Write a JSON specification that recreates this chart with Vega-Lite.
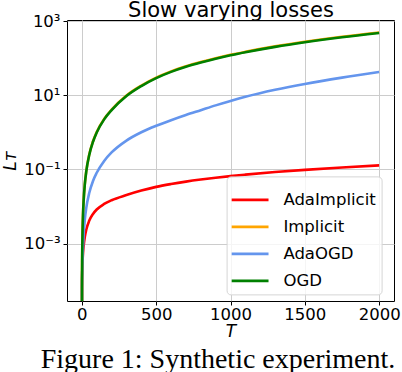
{
  "$schema": "https://vega.github.io/schema/vega-lite/v6.json",
  "autosize": "none",
  "padding": {"left": 67, "top": 20, "right": 8, "bottom": 71},
  "width": 327,
  "height": 281,
  "title": {"text": "Figure 1: Synthetic experiment.", "orient": "bottom", "anchor": "middle", "frame": "group", "font": "Liberation Serif", "fontSize": 28, "fontWeight": "normal", "color": "black", "baseline": "alphabetic", "offset": 28, "dx": -12.5},
  "data": {"values": [
      {"T": 0, "s": "AdaImplicit", "L": 1e-9},
      {"T": 1, "s": "AdaImplicit", "L": 6.5e-5},
      {"T": 2, "s": "AdaImplicit", "L": 1.35e-4},
      {"T": 3, "s": "AdaImplicit", "L": 2.04e-4},
      {"T": 5, "s": "AdaImplicit", "L": 3.47e-4},
      {"T": 8, "s": "AdaImplicit", "L": 5.75e-4},
      {"T": 12, "s": "AdaImplicit", "L": 8.7e-4},
      {"T": 20, "s": "AdaImplicit", "L": 1.51e-3},
      {"T": 30, "s": "AdaImplicit", "L": 2.4e-3},
      {"T": 50, "s": "AdaImplicit", "L": 4.17e-3},
      {"T": 75, "s": "AdaImplicit", "L": 6.3e-3},
      {"T": 100, "s": "AdaImplicit", "L": 8.3e-3},
      {"T": 150, "s": "AdaImplicit", "L": 0.0117},
      {"T": 200, "s": "AdaImplicit", "L": 0.0148},
      {"T": 300, "s": "AdaImplicit", "L": 0.0204},
      {"T": 400, "s": "AdaImplicit", "L": 0.0269},
      {"T": 500, "s": "AdaImplicit", "L": 0.0339},
      {"T": 600, "s": "AdaImplicit", "L": 0.0404},
      {"T": 700, "s": "AdaImplicit", "L": 0.0469},
      {"T": 800, "s": "AdaImplicit", "L": 0.0533},
      {"T": 900, "s": "AdaImplicit", "L": 0.0597},
      {"T": 1000, "s": "AdaImplicit", "L": 0.0661},
      {"T": 1100, "s": "AdaImplicit", "L": 0.0724},
      {"T": 1300, "s": "AdaImplicit", "L": 0.0851},
      {"T": 1500, "s": "AdaImplicit", "L": 0.0975},
      {"T": 1750, "s": "AdaImplicit", "L": 0.113},
      {"T": 2000, "s": "AdaImplicit", "L": 0.129},
      {"T": 0, "s": "Implicit", "L": 1e-9},
      {"T": 1, "s": "Implicit", "L": 1.03e-4},
      {"T": 2, "s": "Implicit", "L": 4.12e-4},
      {"T": 3, "s": "Implicit", "L": 9.27e-4},
      {"T": 5, "s": "Implicit", "L": 2.58e-3},
      {"T": 8, "s": "Implicit", "L": 6.6e-3},
      {"T": 12, "s": "Implicit", "L": 0.0148},
      {"T": 20, "s": "Implicit", "L": 0.0412},
      {"T": 30, "s": "Implicit", "L": 0.0927},
      {"T": 50, "s": "Implicit", "L": 0.2575},
      {"T": 75, "s": "Implicit", "L": 0.577},
      {"T": 100, "s": "Implicit", "L": 1.03},
      {"T": 150, "s": "Implicit", "L": 2.32},
      {"T": 200, "s": "Implicit", "L": 4.12},
      {"T": 300, "s": "Implicit", "L": 9.92},
      {"T": 400, "s": "Implicit", "L": 18.4},
      {"T": 500, "s": "Implicit", "L": 30.2},
      {"T": 600, "s": "Implicit", "L": 44.5},
      {"T": 700, "s": "Implicit", "L": 61.1},
      {"T": 800, "s": "Implicit", "L": 79.7},
      {"T": 900, "s": "Implicit", "L": 101},
      {"T": 1000, "s": "Implicit", "L": 124.6},
      {"T": 1100, "s": "Implicit", "L": 150},
      {"T": 1300, "s": "Implicit", "L": 210},
      {"T": 1500, "s": "Implicit", "L": 280},
      {"T": 1750, "s": "Implicit", "L": 382},
      {"T": 2000, "s": "Implicit", "L": 498},
      {"T": 0, "s": "AdaOGD", "L": 1e-9},
      {"T": 1, "s": "AdaOGD", "L": 6.3e-5},
      {"T": 2, "s": "AdaOGD", "L": 1.26e-4},
      {"T": 3, "s": "AdaOGD", "L": 2.24e-4},
      {"T": 5, "s": "AdaOGD", "L": 4.47e-4},
      {"T": 8, "s": "AdaOGD", "L": 8.5e-4},
      {"T": 12, "s": "AdaOGD", "L": 1.78e-3},
      {"T": 20, "s": "AdaOGD", "L": 4.47e-3},
      {"T": 30, "s": "AdaOGD", "L": 9.3e-3},
      {"T": 50, "s": "AdaOGD", "L": 0.0234},
      {"T": 75, "s": "AdaOGD", "L": 0.049},
      {"T": 100, "s": "AdaOGD", "L": 0.0813},
      {"T": 150, "s": "AdaOGD", "L": 0.17},
      {"T": 200, "s": "AdaOGD", "L": 0.288},
      {"T": 300, "s": "AdaOGD", "L": 0.603},
      {"T": 400, "s": "AdaOGD", "L": 1.01},
      {"T": 500, "s": "AdaOGD", "L": 1.51},
      {"T": 600, "s": "AdaOGD", "L": 2.14},
      {"T": 700, "s": "AdaOGD", "L": 2.95},
      {"T": 800, "s": "AdaOGD", "L": 3.98},
      {"T": 900, "s": "AdaOGD", "L": 5.37},
      {"T": 1000, "s": "AdaOGD", "L": 7.08},
      {"T": 1100, "s": "AdaOGD", "L": 9.12},
      {"T": 1300, "s": "AdaOGD", "L": 14.1},
      {"T": 1500, "s": "AdaOGD", "L": 20.4},
      {"T": 1750, "s": "AdaOGD", "L": 30.2},
      {"T": 2000, "s": "AdaOGD", "L": 42.7},
      {"T": 0, "s": "OGD", "L": 1e-9},
      {"T": 1, "s": "OGD", "L": 1.0e-4},
      {"T": 2, "s": "OGD", "L": 4.0e-4},
      {"T": 3, "s": "OGD", "L": 9.0e-4},
      {"T": 5, "s": "OGD", "L": 2.5e-3},
      {"T": 8, "s": "OGD", "L": 6.4e-3},
      {"T": 12, "s": "OGD", "L": 0.0144},
      {"T": 20, "s": "OGD", "L": 0.04},
      {"T": 30, "s": "OGD", "L": 0.09},
      {"T": 50, "s": "OGD", "L": 0.25},
      {"T": 75, "s": "OGD", "L": 0.56},
      {"T": 100, "s": "OGD", "L": 1.0},
      {"T": 150, "s": "OGD", "L": 2.25},
      {"T": 200, "s": "OGD", "L": 4.0},
      {"T": 300, "s": "OGD", "L": 9.63},
      {"T": 400, "s": "OGD", "L": 17.9},
      {"T": 500, "s": "OGD", "L": 29.3},
      {"T": 600, "s": "OGD", "L": 43.2},
      {"T": 700, "s": "OGD", "L": 59.3},
      {"T": 800, "s": "OGD", "L": 77.4},
      {"T": 900, "s": "OGD", "L": 98},
      {"T": 1000, "s": "OGD", "L": 121},
      {"T": 1100, "s": "OGD", "L": 146},
      {"T": 1300, "s": "OGD", "L": 204},
      {"T": 1500, "s": "OGD", "L": 272},
      {"T": 1750, "s": "OGD", "L": 371},
      {"T": 2000, "s": "OGD", "L": 484}
  ]},
  "layer": [
    {
      "mark": {"type": "line", "clip": true, "strokeWidth": 2.6, "interpolate": "monotone"},
      "encoding": {
        "x": {"field": "T", "type": "quantitative", "title": "T",
          "scale": {"domain": [-100, 2100], "nice": false, "zero": false},
          "axis": {"values": [0, 500, 1000, 1500, 2000], "format": "d", "labelPadding": 1, "titlePadding": 1, "labelFlush": false, "labelOverlap": false}},
        "y": {"field": "L", "type": "quantitative", "title": "Lᴛ",
          "scale": {"type": "log", "domain": [2.81e-5, 1084], "nice": false},
          "axis": {"values": [0.001, 0.1, 10, 1000], "labelPadding": 3, "titlePadding": 4,
            "labelExpr": "round(log(datum.value)/LN10) == 3 ? '10³' : round(log(datum.value)/LN10) == 1 ? '10¹' : round(log(datum.value)/LN10) == -1 ? '10⁻¹' : '10⁻³'"}},
        "color": {"field": "s", "type": "nominal",
          "scale": {"domain": ["AdaImplicit", "Implicit", "AdaOGD", "OGD"], "range": ["#ff0000", "#ffa500", "#6495ed", "#008000"]},
          "legend": {"title": null, "orient": "none", "legendX": 159.6, "legendY": 156.4, "symbolType": "M-1.1,0L1.1,0", "symbolSize": 1122, "symbolStrokeWidth": 2.6,
            "labelFontSize": 16.5, "labelFont": "DejaVu Sans", "labelColor": "black", "labelOffset": 14.8, "rowPadding": 0,
            "labelExpr": "datum.label + ' '",
            "fillColor": "rgba(255,255,255,0.8)", "strokeColor": "#d5d5d5", "cornerRadius": 4, "padding": 5}}
      }
    },
    {
      "mark": {"type": "point", "opacity": 0},
      "encoding": {
        "x": {"field": "T", "type": "quantitative", "title": "Slow varying losses",
          "scale": {"domain": [-100, 2100], "nice": false, "zero": false},
          "axis": {"orient": "top", "labels": false, "ticks": false, "grid": false, "domain": false,
            "titleFontStyle": "normal", "titleFontSize": 21, "titleBaseline": "alphabetic", "titlePadding": 4}}
      }
    }
  ],
  "resolve": {"axis": {"x": "independent"}},
  "config": {
    "view": {"stroke": "black", "strokeWidth": 1},
    "font": "DejaVu Sans",
    "axis": {"grid": true, "gridColor": "#cccccc", "gridWidth": 1, "domain": false, "tickColor": "black", "tickSize": 4,
      "labelFontSize": 16.5, "labelColor": "black", "labelFont": "DejaVu Sans",
      "titleFont": "DejaVu Sans", "titleFontSize": 17, "titleFontWeight": "normal", "titleFontStyle": "italic", "titleColor": "black"}
  }
}
